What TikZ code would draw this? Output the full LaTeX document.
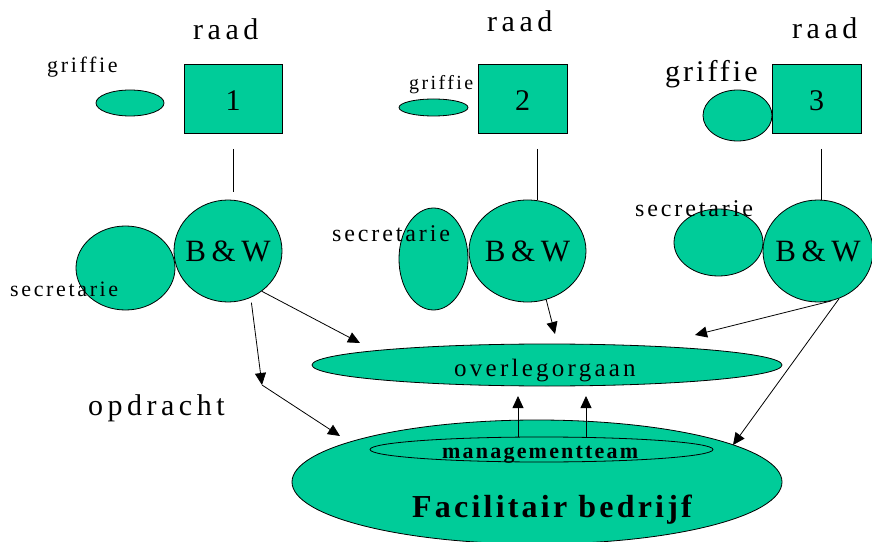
\documentclass[tikz,border=0pt]{standalone}
\usepackage{fontspec}
\setmainfont{Liberation Serif}
\newfontfamily\spacedA[LetterSpace=15]{Liberation Serif}
\newfontfamily\spacedB[LetterSpace=12]{Liberation Serif}
\newfontfamily\spacedC[LetterSpace=10]{Liberation Serif}
\newfontfamily\spacedD[LetterSpace=13]{Liberation Serif}
\newfontfamily\spacedE[LetterSpace=18]{Liberation Serif}
\usetikzlibrary{shapes.geometric,arrows.meta}
\definecolor{boxgreen}{RGB}{0,204,153}
\newcommand\fsz[1]{\fontsize{#1bp}{#1bp}\selectfont}

\begin{document}
\begin{tikzpicture}[x=1bp,y=-1bp,
  shapebase/.style={draw=black, fill=boxgreen, line width=0.8bp, inner sep=0pt},
  oval/.style={shapebase, ellipse},
  box/.style={shapebase, rectangle},
  lbl/.style={anchor=base west, inner sep=0pt},
  bwtext/.style={inner sep=0pt, text height=21bp, text depth=0pt, font=\spacedE\fsz{31}},
  link/.style={line width=0.8bp},
  arr/.style={link, -{Triangle[length=12bp,width=11bp]}}
]
\useasboundingbox (0,0) rectangle (872,542);

% councils (raad) with their number
\node[box, minimum width=98bp, minimum height=69bp, text height=25bp, text depth=0pt, font=\spacedA\fsz{30}] (r1) at (233,98.5) {1};
\node[box, minimum width=89bp, minimum height=69bp, text height=25bp, text depth=0pt, font=\spacedA\fsz{30}] (r2) at (522.5,98.5) {2};
\node[box, minimum width=89bp, minimum height=69bp, text height=25bp, text depth=0pt, font=\spacedA\fsz{30}] (r3) at (816.5,98.5) {3};

% griffie ovals
\node[oval, minimum width=68bp, minimum height=26bp] (g1) at (130,103) {};
\node[oval, minimum width=69bp, minimum height=17bp] (g2) at (433.5,107.5) {};
\node[oval, minimum width=69bp, minimum height=51bp] (g3) at (737.5,115.5) {};

% secretarie ovals
\node[oval, minimum width=99bp, minimum height=84bp] (s1) at (125.5,268) {};
\node[oval, minimum width=69bp, minimum height=102bp] (s2) at (433.5,259) {};
\node[oval, minimum width=89bp, minimum height=67bp] (s3) at (718.5,242.5) {};

% B&W circles
\node[oval, minimum width=108bp, minimum height=102bp] (bw1) at (228,251) {};
\node[oval, minimum width=117bp, minimum height=102bp] (bw2) at (527.5,251) {};
\node[oval, minimum width=110bp, minimum height=102bp] (bw3) at (818,251) {};
\node[bwtext] (bwl1) at (bw1.center) {B\&W};
\node[bwtext] (bwl2) at (bw2.center) {B\&W};
\node[bwtext] (bwl3) at (bw3.center) {B\&W};

% overlegorgaan and the facilitair bedrijf
\node[oval, minimum width=470bp, minimum height=42bp] (ov) at (547,365) {};
\node[oval, minimum width=490bp, minimum height=124bp] (fb) at (537,482) {};
\node[oval, minimum width=343bp, minimum height=25bp] (mt) at (541.5,449.5) {};

% labels
\node[lbl, font=\spacedA\fsz{30}] (raad1) at (193,40) {raad};
\node[lbl, font=\spacedA\fsz{30}] (raad2) at (487,32) {raad};
\node[lbl, font=\spacedA\fsz{30}] (raad3) at (792,39) {raad};
\node[lbl, font=\spacedB\fsz{22}] (gl1) at (47,73) {griffie};
\node[lbl, font=\spacedB\fsz{20}] (gl2) at (409,90) {griffie};
\node[lbl, font=\spacedC\fsz{30}] (gl3) at (665,82) {griffie};
\node[lbl, font=\spacedB\fsz{22}] (sl1) at (10,297) {secretarie};
\node[lbl, font=\spacedB\fsz{24}] (sl2) at (332,242) {secretarie};
\node[lbl, font=\spacedB\fsz{24}] (sl3) at (635,217) {secretarie};
\node[lbl, font=\spacedA\fsz{30}] (opd) at (88,415) {opdracht};
\node[lbl, font=\spacedD\fsz{25}] (ovl) at (454,376) {overlegorgaan};
\node[lbl, font=\spacedC\bfseries\fsz{22}] (mtl) at (442,458) {managementteam};
\node[lbl, font=\spacedC\bfseries\fsz{32}] (fbl) at (412,517) {Facilitair bedrijf};

% raad to B&W
\coordinate (v1) at (233,149);
\coordinate (v2) at (537,149);
\coordinate (v3) at (821,149);
\draw[link, shorten >=8bp] (v1) -- (v1 |- bw1.north);
\draw[link] (v2) -- (v2 |- bw2.north);
\draw[link] (v3) -- (v3 |- bw3.north);

% arrow ends
\coordinate (t1) at (360,343);
\coordinate (k1) at (262,385);
\coordinate (t2) at (340,436);
\coordinate (t3) at (555,334);
\coordinate (t4) at (695,335);
\coordinate (t5) at (733,445);
\coordinate (u1) at (518,396);
\coordinate (u2) at (586,396);

\draw[arr] (bw1.-50) -- (t1);
\draw[arr, shorten <=5bp] (bw1.-64) -- (k1);
\draw[arr] (k1) -- (t2);
\draw[arr] (bw2.-69) -- (t3);
\draw[arr] (bw3.-75) -- (t4);
\draw[arr] (bw3.-66) -- (t5);
\draw[arr] (mt.north -| u1) -- (u1);
\draw[arr] (mt.north -| u2) -- (u2);
\end{tikzpicture}
\end{document}
